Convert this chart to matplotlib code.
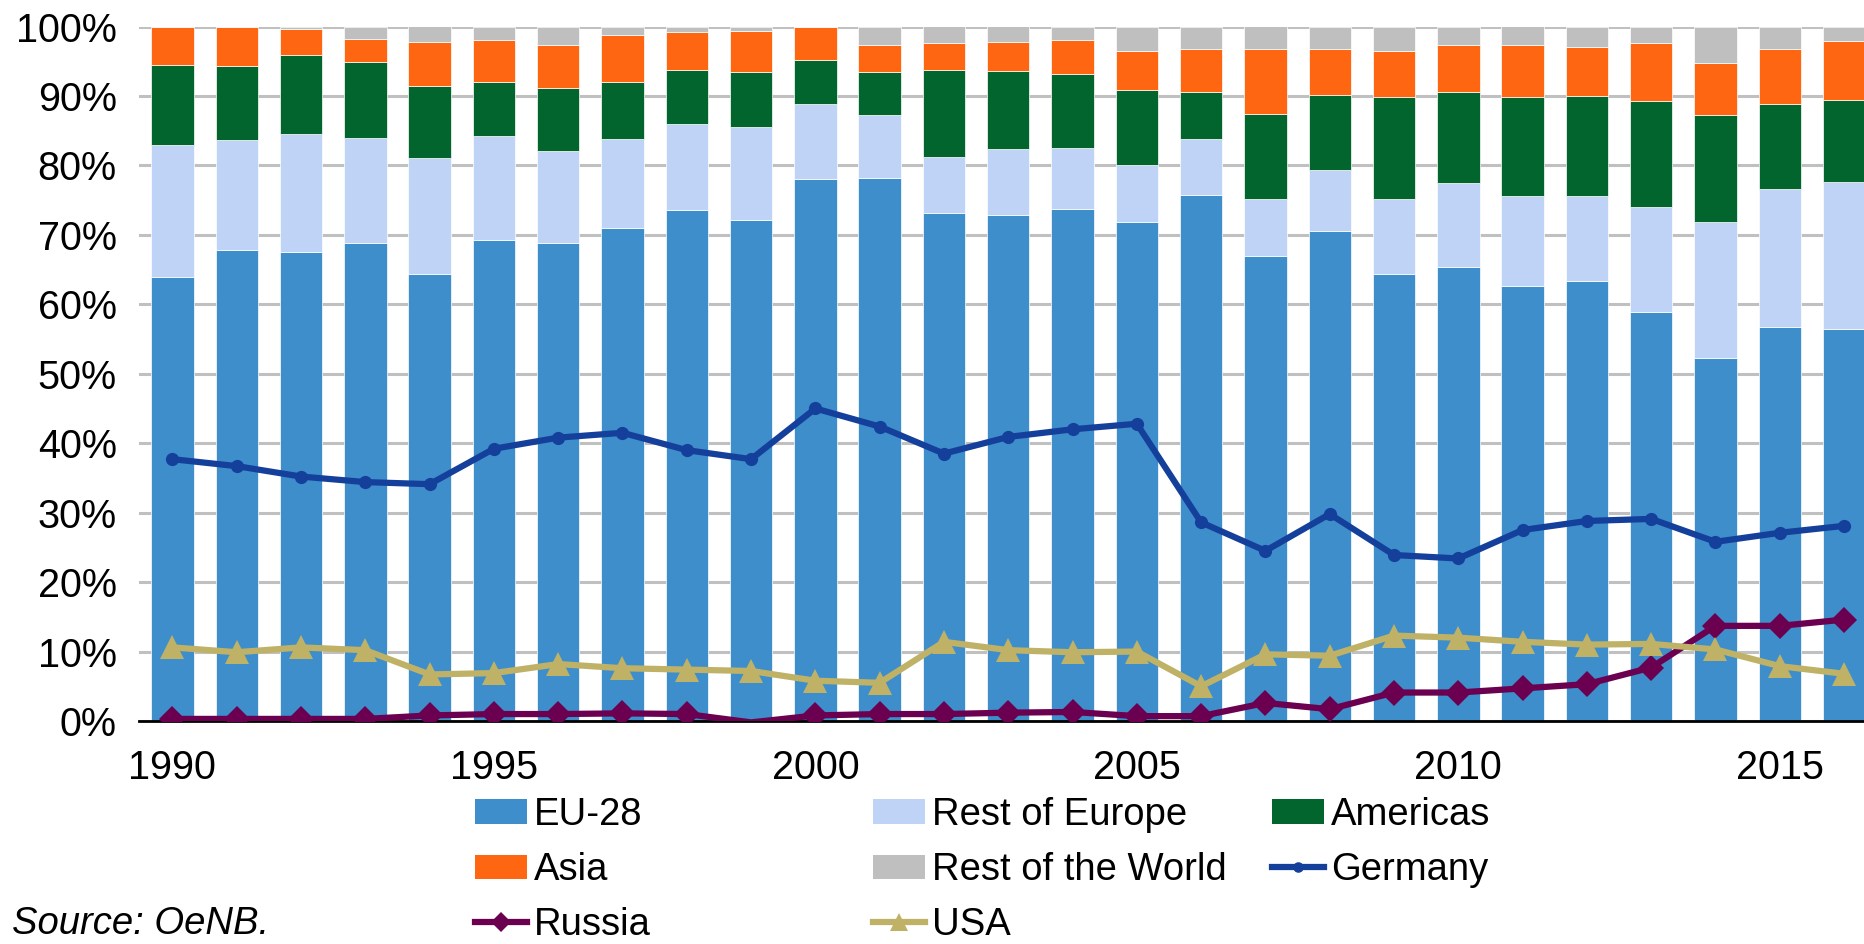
import matplotlib
matplotlib.use('Agg')
import matplotlib.pyplot as plt
import numpy as np
from matplotlib.patches import Patch
from matplotlib.lines import Line2D

plt.rcParams['font.family'] = ['Liberation Sans', 'DejaVu Sans']

years = list(range(1990, 2017))
eu28 = [64.0, 67.8, 67.5, 68.8, 64.4, 69.3, 68.8, 71.0, 73.6, 72.1, 78.0, 78.2, 73.2, 72.9,
        73.7, 71.9, 75.8, 67.0, 70.6, 64.4, 65.3, 62.7, 63.4, 58.9, 52.2, 56.8, 56.4]
rest_europe = [19.0, 15.9, 17.0, 15.2, 16.6, 15.0, 13.3, 12.8, 12.3, 13.5, 10.8, 9.0, 8.0, 9.5,
               8.8, 8.2, 8.0, 8.2, 8.7, 10.7, 12.1, 12.9, 12.2, 15.1, 19.7, 19.8, 21.2]
americas = [11.5, 10.6, 11.4, 10.9, 10.4, 7.7, 9.0, 8.2, 7.9, 7.9, 6.4, 6.3, 12.5, 11.2,
            10.7, 10.7, 6.7, 12.2, 10.8, 14.7, 13.2, 14.3, 14.4, 15.3, 15.4, 12.2, 11.8]
asia = [5.5, 5.7, 3.8, 3.3, 6.4, 6.0, 6.3, 6.8, 5.4, 5.8, 4.7, 3.8, 3.9, 4.2,
        4.9, 5.7, 6.3, 9.4, 6.6, 6.7, 6.7, 7.4, 7.1, 8.3, 7.4, 7.9, 8.5]
rest_world = [0.0, 0.0, 0.3, 1.8, 2.2, 2.0, 2.6, 1.2, 0.8, 0.7, 0.1, 2.7, 2.4, 2.2,
              1.9, 3.5, 3.2, 3.2, 3.3, 3.5, 2.7, 2.7, 2.9, 2.4, 5.3, 3.3, 2.1]
germany = [37.7, 36.7, 35.2, 34.4, 34.1, 39.2, 40.8, 41.5, 39.0, 37.7, 45.0, 42.4, 38.5, 40.9,
           42.0, 42.8, 28.6, 24.5, 29.8, 23.9, 23.4, 27.5, 28.8, 29.1, 25.8, 27.1, 28.1]
russia = [0.3, 0.3, 0.3, 0.3, 0.8, 1.0, 1.0, 1.1, 1.0, -0.2, 0.8, 1.0, 1.0, 1.2,
          1.3, 0.7, 0.7, 2.6, 1.7, 4.1, 4.1, 4.7, 5.3, 7.7, 13.7, 13.7, 14.6]
usa = [10.6, 9.9, 10.6, 10.2, 6.7, 6.9, 8.2, 7.6, 7.4, 7.2, 5.8, 5.5, 11.4, 10.2,
       9.9, 10.0, 5.0, 9.6, 9.4, 12.3, 12.0, 11.4, 11.0, 11.1, 10.3, 7.9, 6.8]
xtick_years = [1990, 1995, 2000, 2005, 2010, 2015]
ytick_vals = list(range(0, 101, 10))

bar_series = [("EU-28", eu28, "#3D8ECB"),
              ("Rest of Europe", rest_europe, "#BFD3F7"),
              ("Americas", americas, "#02652D"),
              ("Asia", asia, "#FF6612"),
              ("Rest of the World", rest_world, "#BFBFBF")]
line_series = [("Germany", germany, "#14409B", "o", 9.5),
               ("Russia", russia, "#6B0050", "D", 13),
               ("USA", usa, "#BFB266", "^", 17)]

FS = 28.5
LFS = 27.5
LW = 4.5
fig = plt.figure(figsize=(18.64, 9.44), dpi=100)
ax = fig.add_axes([139/1864, 1 - 721/944, 1 - 139/1864, (721 - 26.5)/944])

x = np.array(years)
bottom = np.zeros(len(years))
handles = {}
for name, vals, col in bar_series:
    v = np.array(vals)
    ax.bar(x, v, width=0.66, bottom=bottom, color=col, edgecolor='white',
           linewidth=0.5, zorder=2)
    bottom += v
    handles[name] = Patch(facecolor=col, edgecolor='none')

for name, vals, col, mk, ms in line_series:
    v = np.array(vals)
    me = [i for i, val in enumerate(vals) if val >= 0]
    ax.plot(x, v, color=col, lw=LW, marker=mk, markersize=ms, markevery=me,
            markeredgewidth=0, zorder=4, clip_on=True)
    handles[name] = Line2D([], [], color=col, lw=LW, marker=mk,
                           markersize=ms * 0.8, markeredgewidth=0)

ax.set_xlim(1989.48, 2016.31)
ax.set_ylim(0, 100)
ax.set_yticks(ytick_vals)
ax.set_yticklabels([f"{t}%" for t in ytick_vals], fontsize=FS)
ax.set_xticks(xtick_years)
ax.set_xticklabels([str(t) for t in xtick_years], fontsize=FS)
ax.tick_params(axis='y', length=0, pad=16)
ax.tick_params(axis='x', length=0, pad=20)
ax.grid(axis='y', color='#C0C0C0', lw=2.2, zorder=0)
ax.set_axisbelow(True)
for s in ['left', 'right', 'top']:
    ax.spines[s].set_visible(False)
ax.spines['bottom'].set_color('black')
ax.spines['bottom'].set_linewidth(2)
ax.spines['bottom'].set_zorder(3)

columns = [["EU-28", "Asia", "Russia"],
           ["Rest of Europe", "Rest of the World", "USA"],
           ["Americas", "Germany"]]
col_x = [475 / 1864, 873 / 1864, 1272 / 1864]
for cx, names in zip(col_x, columns):
    fig.legend([handles[n] for n in names], names, loc='upper left',
               bbox_to_anchor=(cx, 1 - 797 / 944), frameon=False, fontsize=LFS,
               borderpad=0, borderaxespad=0, handlelength=1.35, handleheight=0.6,
               handletextpad=0.2, labelspacing=0.5)

fig.text(12 / 1864, 1 - 924 / 944, "Source: OeNB.", fontsize=LFS, style='italic',
         va='center', ha='left')

fig.savefig('out.png', dpi=100)
